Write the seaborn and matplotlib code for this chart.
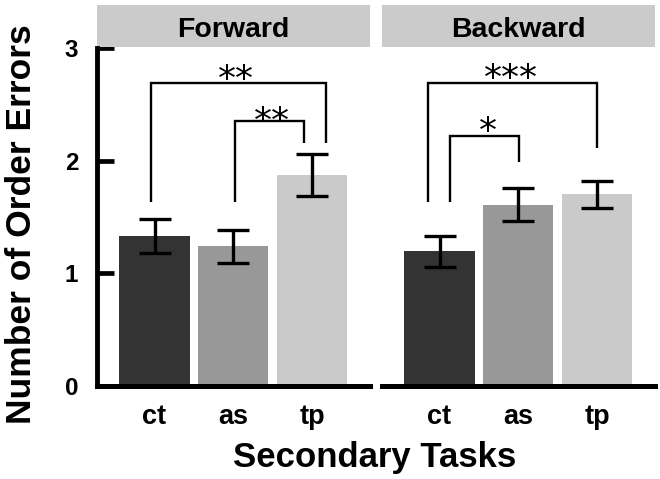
import pandas as pd
import matplotlib.pyplot as plt
import seaborn as sns
from matplotlib.patches import Rectangle
from matplotlib.transforms import offset_copy

# данные
directions = ['Forward', 'Backward']
tasks = ['ct', 'as', 'tp']
fwd_mean = [1.33, 1.24, 1.875]
fwd_err = [0.15, 0.145, 0.185]
bwd_mean = [1.195, 1.61, 1.70]
bwd_err = [0.14, 0.15, 0.122]

# скобки значимости: x слева, x справа, верх, низ слева, низ справа
fwd_brackets = [(-0.04, 2.18, 2.69, 1.63, 2.16), (1.02, 1.895, 2.35, 1.63, 2.16)]
bwd_brackets = [(-0.15, 2.0, 2.69, 1.63, 2.11), (0.13, 1.015, 2.22, 1.63, 1.99)]
# звездочки: x, y центра, текст
fwd_stars = [(1.03, 2.81, '**'), (1.49, 2.44, '**')]
bwd_stars = [(0.91, 2.82, '***'), (0.62, 2.35, '*')]

bar_colors = ['#333333', '#989898', '#cacaca']

sns.set_style('white')
plt.rcParams['font.family'] = ['Liberation Sans', 'DejaVu Sans']
plt.rcParams['font.weight'] = 'bold'
plt.rcParams['text.color'] = 'black'
plt.rcParams['axes.labelcolor'] = 'black'
plt.rcParams['xtick.color'] = 'black'
plt.rcParams['ytick.color'] = 'black'

fig, axes = plt.subplots(1, 2, figsize=(6.6, 4.79), dpi=100, sharey=True)
fig.subplots_adjust(left=0.147, right=0.9924, bottom=0.1942, top=0.8998, wspace=0.044)

panels = [
    (fwd_mean, fwd_err, fwd_brackets, fwd_stars),
    (bwd_mean, bwd_err, bwd_brackets, bwd_stars),
]

for i, (ax, name) in enumerate(zip(axes, directions)):
    means, errs, brackets, stars = panels[i]
    df = pd.DataFrame({'task': tasks, 'mean': means, 'err': errs})
    sns.barplot(data=df, x='task', y='mean', hue='task', palette=bar_colors,
                width=0.89, errorbar=None, legend=False, saturation=1,
                linewidth=0, ax=ax)
    ax.errorbar(x=range(len(tasks)), y=df['mean'], yerr=df['err'], fmt='none',
                ecolor='black', elinewidth=2.4, capsize=11.4, capthick=2.4, zorder=3)

    # скобки
    for x1, x2, top, y1, y2 in brackets:
        ax.plot([x1, x1, x2, x2], [y1, top, top, y2], color='black', lw=1.7,
                solid_capstyle='butt', solid_joinstyle='miter')
    # звездочки, смещаем чтобы центр глифа был на нужной высоте
    star_tr = offset_copy(ax.transData, fig=fig, y=-0.58 * 26, units='points')
    for sx, sy, lab in stars:
        ax.text(sx, sy, lab, ha='center', va='baseline', fontsize=26,
                family='DejaVu Sans', fontweight='normal', color='black',
                transform=star_tr)

    ax.set_xlim(-0.73, 2.735)
    ax.set_ylim(0, 3)
    ax.set_xlabel('')
    ax.tick_params(axis='x', length=0, pad=13, labelsize=19.5, labelcolor='black')

    for s in ['top', 'right']:
        ax.spines[s].set_visible(False)
    ax.spines['bottom'].set_linewidth(3.6)
    ax.spines['bottom'].set_color('black')

    # шапка панели
    ax.add_patch(Rectangle((0, 1.003), 1, 0.124, transform=ax.transAxes,
                           facecolor='#cbcbcb', edgecolor='none', clip_on=False))
    ax.text(0.5, 1.033, name, transform=ax.transAxes, ha='center', va='baseline',
            fontsize=20.5, fontweight='bold', color='black')

axes[0].spines['left'].set_linewidth(3.5)
axes[0].spines['left'].set_color('black')
axes[0].set_yticks([0, 1, 2, 3])
axes[0].tick_params(axis='y', direction='in', length=12, width=3.4, pad=13.5,
                    labelsize=17.5, left=True, color='black', labelcolor='black')
axes[0].set_ylabel('Number of Order Errors', fontsize=25.5, fontweight='bold',
                   color='black')
axes[0].yaxis.set_label_coords(-0.215, 0.479)

axes[1].spines['left'].set_visible(False)
axes[1].tick_params(axis='y', left=False, labelleft=False)
axes[1].set_ylabel('')

fig.text(0.568, 0.025, 'Secondary Tasks', ha='center', va='baseline',
         fontsize=25, fontweight='bold', color='black')

plt.savefig('out.png', dpi=100)
